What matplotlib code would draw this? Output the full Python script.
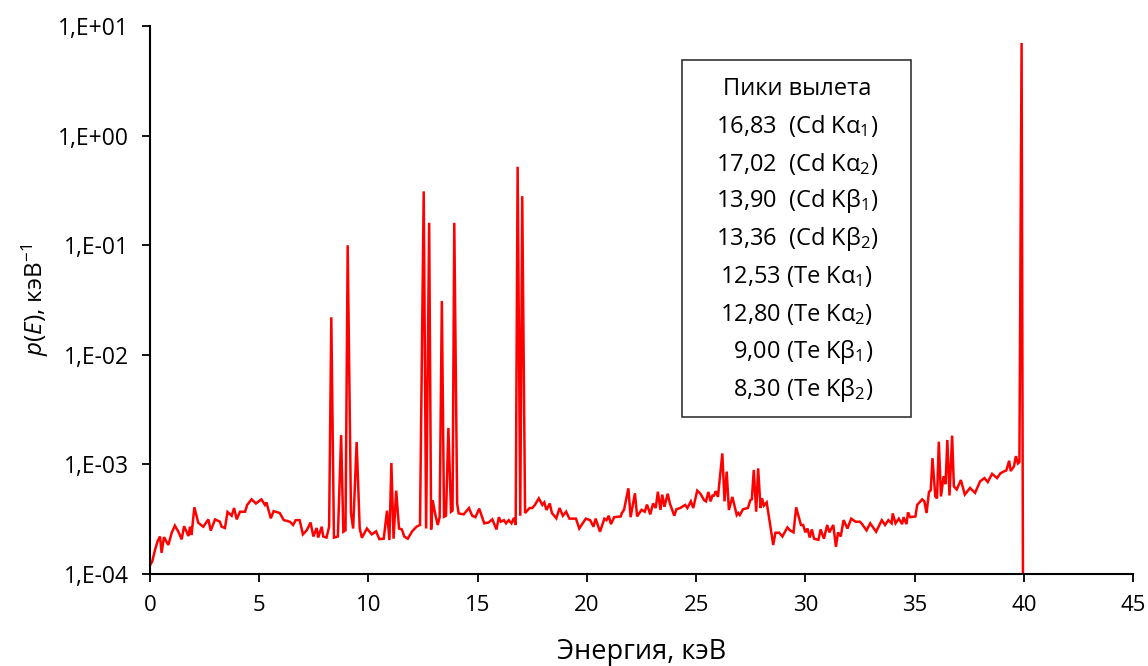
"""
Спектр p(E) с пиками вылета (Cd, Te), логарифмическая шкала
"""

import numpy as np
import matplotlib

matplotlib.use("Agg")
import matplotlib.pyplot as plt
from matplotlib.ticker import FixedLocator, FuncFormatter, NullLocator

plt.rcParams["font.family"] = ["Open Sans", "DejaVu Sans"]
plt.rcParams["mathtext.fontset"] = "custom"
plt.rcParams["mathtext.rm"] = "Open Sans"
plt.rcParams["mathtext.it"] = "Open Sans:italic"

# === данные (энергия, кэВ; p(E) в единицах 1e-4 кэВ^-1) ===
energy = [
    0.0, 0.1, 0.23, 0.35, 0.46, 0.53, 0.64, 0.84, 0.99, 1.14,
    1.3, 1.45, 1.56, 1.76, 1.83, 1.9, 2.03, 2.21, 2.44, 2.67,
    2.78, 2.98, 3.2, 3.28, 3.43, 3.55, 3.74, 3.85, 3.97, 4.12,
    4.35, 4.45, 4.65, 4.85, 5.1, 5.26, 5.33, 5.53, 5.66, 5.94,
    6.12, 6.4, 6.55, 6.67, 6.85, 7.0, 7.17, 7.35, 7.48, 7.63,
    7.7, 7.86, 7.93, 8.08, 8.2, 8.3, 8.42, 8.6, 8.75, 8.85,
    8.95, 9.05, 9.2, 9.3, 9.46, 9.6, 9.7, 9.93, 10.15, 10.35,
    10.5, 10.7, 10.85, 10.96, 11.05, 11.15, 11.27, 11.4, 11.53, 11.64,
    11.8, 12.0, 12.2, 12.36, 12.53, 12.64, 12.78, 12.87, 12.94, 13.06,
    13.17, 13.26, 13.36, 13.46, 13.55, 13.66, 13.78, 13.85, 13.93, 14.06,
    14.13, 14.36, 14.6, 14.75, 14.9, 15.07, 15.3, 15.5, 15.67, 15.86,
    15.97, 16.06, 16.2, 16.3, 16.42, 16.55, 16.66, 16.74, 16.83, 16.95,
    17.04, 17.17, 17.38, 17.5, 17.62, 17.8, 17.96, 18.05, 18.15, 18.3,
    18.4, 18.6, 18.75, 18.9, 19.05, 19.2, 19.5, 19.65, 19.95, 20.15,
    20.3, 20.4, 20.6, 20.8, 20.9, 21.0, 21.1, 21.25, 21.55, 21.6,
    21.7, 21.9, 22.0, 22.2, 22.3, 22.5, 22.65, 22.75, 22.9, 23.03,
    23.15, 23.25, 23.37, 23.45, 23.55, 23.7, 23.8, 24.0, 24.1, 24.27,
    24.5, 24.6, 24.76, 24.87, 25.05, 25.2, 25.36, 25.45, 25.56, 25.66,
    25.75, 25.82, 25.9, 26.0, 26.2, 26.3, 26.4, 26.5, 26.66, 26.86,
    26.93, 27.0, 27.15, 27.37, 27.48, 27.55, 27.64, 27.75, 27.84, 27.95,
    28.02, 28.1, 28.23, 28.38, 28.53, 28.63, 28.8, 28.95, 29.18, 29.3,
    29.46, 29.58, 29.8, 29.9, 30.0, 30.1, 30.2, 30.3, 30.4, 30.6,
    30.7, 30.85, 31.0, 31.1, 31.28, 31.4, 31.5, 31.62, 31.75, 31.93,
    32.1, 32.3, 32.5, 32.6, 32.8, 32.97, 33.24, 33.5, 33.65, 33.8,
    33.95, 34.0, 34.13, 34.28, 34.43, 34.5, 34.63, 34.7, 34.8, 35.04,
    35.12, 35.35, 35.45, 35.55, 35.66, 35.74, 35.82, 35.95, 36.03, 36.11,
    36.21, 36.33, 36.42, 36.5, 36.6, 36.72, 36.8, 36.93, 37.12, 37.3,
    37.54, 37.77, 38.0, 38.2, 38.35, 38.55, 38.78, 38.93, 39.08, 39.2,
    39.33, 39.4, 39.55, 39.64, 39.73, 39.8, 39.9, 40.0,
]
p_e4 = [
    1.2, 1.3, 1.66, 2.0, 2.2, 1.56, 2.17, 1.84, 2.37, 2.76,
    2.43, 2.07, 2.73, 2.22, 2.7, 2.27, 4.06, 2.93, 2.7, 3.15,
    2.49, 3.15, 3.0, 2.7, 2.63, 3.68, 3.4, 4.0, 3.15, 3.7,
    3.7, 4.27, 4.8, 4.4, 4.8, 4.27, 4.5, 3.22, 3.75, 3.6,
    3.11, 3.0, 2.8, 3.1, 3.1, 2.3, 2.5, 2.95, 2.2, 2.63,
    2.15, 2.7, 2.2, 2.15, 2.7, 220, 2.15, 2.2, 18.5, 2.43,
    2.5, 1000, 3.6, 2.6, 16, 2.6, 2.14, 2.6, 2.3, 2.45,
    2.08, 2.1, 3.78, 2.04, 10.3, 2.1, 5.76, 2.6, 2.55, 2.2,
    2.1, 2.45, 2.7, 2.8, 3100, 2.6, 1600, 2.55, 4.7, 3.5,
    2.8, 3.3, 310, 3.33, 3.4, 21.5, 3.7, 3.8, 1600, 4.4,
    3.57, 3.5, 4.0, 3.4, 3.3, 3.95, 2.9, 2.95, 3.15, 2.55,
    3.3, 3.0, 3.1, 2.9, 3.1, 2.9, 3.25, 2.8, 5200, 3.4,
    2800, 3.6, 4.0, 4.0, 4.27, 4.9, 4.27, 4.5, 3.84, 4.4,
    3.6, 3.22, 4.0, 3.4, 3.7, 3.2, 3.2, 2.6, 3.2, 3.1,
    2.7, 3.2, 2.43, 3.2, 3.1, 3.4, 2.85, 3.3, 3.35, 3.6,
    3.85, 6.05, 3.3, 5.45, 3.35, 3.85, 3.7, 4.3, 3.5, 4.4,
    4.0, 5.63, 3.85, 5.3, 4.1, 5.4, 4.4, 3.4, 3.9, 4.0,
    4.27, 4.0, 4.6, 4.0, 5.76, 5.4, 4.73, 4.6, 5.6, 4.6,
    5.2, 5.2, 5.7, 5.05, 12.6, 4.6, 8.6, 3.84, 5.05, 3.45,
    3.6, 3.45, 3.9, 4.0, 4.7, 4.8, 8.9, 3.7, 9.2, 4.0,
    4.9, 4.2, 4.5, 2.9, 1.84, 2.38, 2.38, 2.2, 2.66, 2.5,
    2.4, 4.06, 2.8, 2.8, 2.4, 2.6, 2.15, 2.55, 2.1, 2.05,
    2.55, 2.1, 2.8, 2.4, 2.8, 1.77, 2.4, 2.2, 3.1, 2.6,
    3.2, 3.0, 3.0, 2.85, 2.5, 2.9, 2.43, 3.1, 2.8, 3.1,
    2.9, 3.57, 2.9, 3.2, 2.85, 3.3, 2.85, 3.65, 3.3, 3.35,
    4.27, 4.8, 4.6, 3.6, 5.6, 5.8, 11.4, 5.1, 4.9, 16.1,
    5.1, 7.8, 6.6, 16.7, 5.2, 18.3, 6.3, 5.9, 7.2, 5.3,
    6.1, 5.5, 7.0, 7.5, 6.9, 8.2, 7.5, 8.3, 8.6, 8.8,
    10.8, 8.7, 9.6, 11.9, 10.2, 10.5, 70000, 0.001,
]

peak_title = "Пики вылета"
peak_lines = [
    "16,83  (Cd Kα$_1$)",
    "17,02  (Cd Kα$_2$)",
    "13,90  (Cd Kβ$_1$)",
    "13,36  (Cd Kβ$_2$)",
    "12,53 (Te Kα$_1$)",
    "12,80 (Te Kα$_2$)",
    "  9,00 (Te Kβ$_1$)",
    "  8,30 (Te Kβ$_2$)",
]

x_ticks = [0, 5, 10, 15, 20, 25, 30, 35, 40, 45]
y_ticks = [1e-4, 1e-3, 1e-2, 1e-1, 1e0, 1e1]


def draw():
    fig = plt.figure(figsize=(11.48, 6.66), dpi=100)
    ax = fig.add_axes([150 / 1148, 92 / 666, 983 / 1148, 548 / 666])

    p = np.array(p_e4) * 1e-4
    ax.plot(energy, p, color="#ff0000", lw=1.8, solid_joinstyle="miter")

    ax.set_yscale("log")
    ax.set_xlim(0, 45)
    ax.set_ylim(1e-4, 1e1)
    ax.xaxis.set_major_locator(FixedLocator(x_ticks))
    ax.yaxis.set_major_locator(FixedLocator(y_ticks))
    ax.yaxis.set_minor_locator(NullLocator())
    ax.yaxis.set_major_formatter(
        FuncFormatter(lambda v, pos: "1,E%+03d" % int(round(np.log10(v))))
    )

    for side in ("top", "right"):
        ax.spines[side].set_visible(False)
    for side in ("left", "bottom"):
        ax.spines[side].set_linewidth(1.5)
        ax.spines[side].set_color("black")
    ax.tick_params(direction="out", length=6, width=1.3, labelsize=16)
    ax.tick_params(axis="x", pad=9)
    ax.tick_params(axis="y", pad=9, labelsize=16.5)

    ax.set_xlabel("Энергия, кэВ", fontsize=19.5, labelpad=16)
    ax.set_ylabel(r"$p$($E$), кэВ$^{-1}$", fontsize=17.5, labelpad=5)

    # === рамка с подписями пиков ===
    box = plt.Rectangle(
        (682 / 1148, 1 - 417 / 666), 229 / 1148, 357 / 666,
        transform=fig.transFigure, facecolor="white", edgecolor="#333333",
        linewidth=1.2, zorder=5,
    )
    fig.patches.append(box)
    cx = 797 / 1148
    fig.text(cx, 1 - 89 / 666, peak_title, ha="center", va="center",
             fontsize=17, zorder=6)
    for i, line in enumerate(peak_lines):
        fig.text(cx, 1 - (126 + i * 37.7) / 666, line, ha="center",
                 va="center", fontsize=17, zorder=6)

    return fig


if __name__ == "__main__":
    fig = draw()
    fig.savefig("out.png", dpi=100)
